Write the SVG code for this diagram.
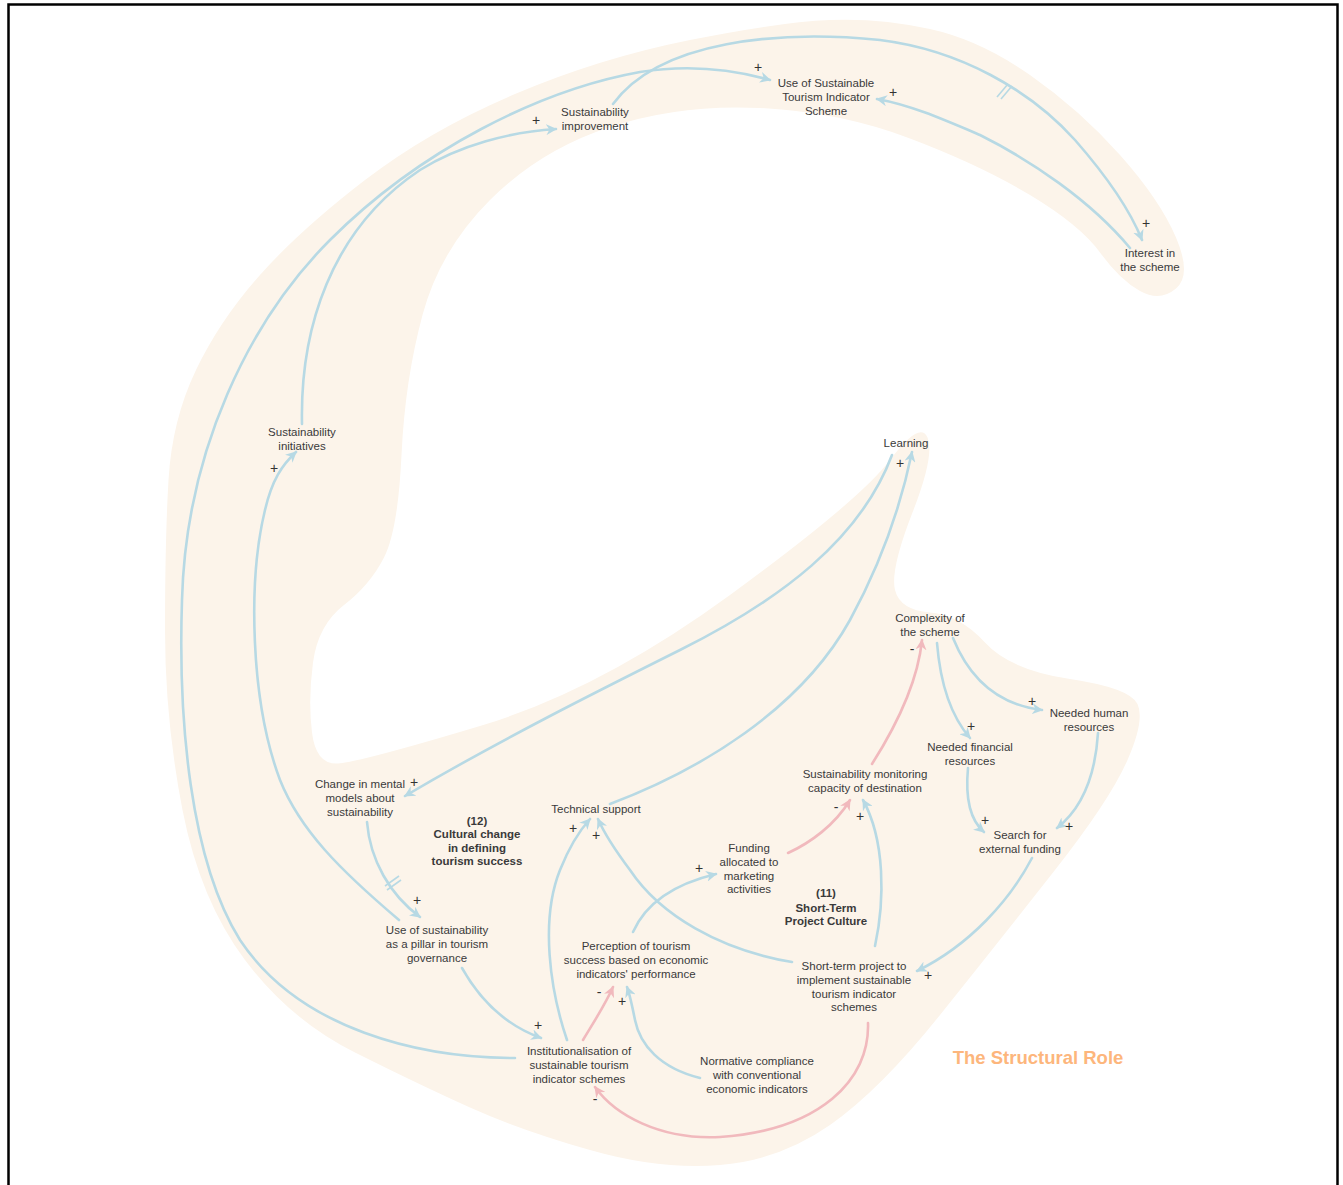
<svg xmlns="http://www.w3.org/2000/svg" width="1343" height="1185" viewBox="0 0 1343 1185">
<style>
.n{font-family:"Liberation Sans",Arial,sans-serif;font-size:11.5px;fill:#3a3a3a;text-anchor:middle}
.b{font-weight:bold}
.s{font-family:"Liberation Sans",Arial,sans-serif;font-size:14px;fill:#333;text-anchor:middle}
.cb{fill:none;stroke:#b7d9e4;stroke-width:2.6;stroke-linecap:round}
.cp{fill:none;stroke:#f1b9bd;stroke-width:2.6;stroke-linecap:round}
.d{stroke:#b7d9e4;stroke-width:1.6}
</style>
<defs>
<marker id="ab" viewBox="0 0 10 10" refX="9" refY="5" markerWidth="11" markerHeight="11" orient="auto" markerUnits="userSpaceOnUse"><path d="M0,0 L10,5 L0,10 L3,5 z" fill="#b7d9e4"/></marker>
<marker id="ap" viewBox="0 0 10 10" refX="9" refY="5" markerWidth="11" markerHeight="11" orient="auto" markerUnits="userSpaceOnUse"><path d="M0,0 L10,5 L0,10 L3,5 z" fill="#f1b9bd"/></marker>
</defs>
<rect x="0" y="0" width="1343" height="1185" fill="#fff"/>
<rect x="8.5" y="4.5" width="1329" height="1200" fill="none" stroke="#000" stroke-width="2.5"/>
<path id="blob" fill="#fcf4ea" d="M 168.5,480 Q 172,420 196,370 Q 220,320 260,275 Q 300,230 365,180 Q 430,130 515,94 Q 600,58 690,40 Q 780,22 830,20 Q 880,18 930,29 Q 980,40 1030,75 Q 1080,110 1120,155 Q 1160,200 1176,237.5 Q 1192,275 1176,288.5 Q 1160,302 1140,291 Q 1120,280 1100,252.5 Q 1080,225 1030,195 Q 980,165 910,138.5 Q 840,112 760,108 Q 680,104 610,127 Q 540,150 490,200 Q 440,250 422.5,315 Q 405,380 401.5,455 Q 398,530 384,557.5 Q 370,585 344,605 Q 318,625 313,662.5 Q 308,700 312,732.5 Q 316,765 338,763.5 Q 360,762 480,726 Q 600,690 730,595 Q 860,500 890,460 Q 920,420 927.5,437.5 Q 935,455 912.5,512.5 Q 890,570 895,590 Q 900,610 930,612.5 Q 960,615 985,642.5 Q 1010,670 1070,679 Q 1130,688 1137.5,704 Q 1145,720 1127.5,760 Q 1110,800 1055,870 Q 1000,940 940,1015 Q 880,1090 830,1125 Q 780,1160 720,1165 Q 660,1170 590,1150 Q 520,1130 470,1107.5 Q 420,1085 355,1052.5 Q 290,1020 245,960 Q 200,900 182.5,810 Q 165,720 165,630 Q 165,540 168.5,480 Z"/>
<g id="connectors">
<path class="cb" marker-end="url(#ab)" d="M515,1058 C420,1058 300,1030 240,940 C190,860 178,720 182,600 C186,450 250,320 330,240 C420,150 540,90 640,72 C690,64 735,70 770,80"/>
<path class="cb" marker-end="url(#ab)" d="M399,920 C340,870 300,830 280,780 C250,700 248,580 265,510 C272,480 282,465 296,452"/>
<path class="cb" marker-end="url(#ab)" d="M302,424 C300,330 330,230 420,170 C460,145 510,132 556,129"/>
<path class="cb" marker-end="url(#ab)" d="M613,104 C660,40 780,30 880,40 C960,50 1030,90 1075,140 C1110,180 1130,210 1142,240"/>
<line class="d" x1="997" y1="97" x2="1008" y2="84"/><line class="d" x1="1001" y1="99" x2="1012" y2="86"/>
<path class="cb" marker-end="url(#ab)" d="M1130,248 C1090,200 1030,160 980,135 C940,118 910,105 877,99"/>
<path class="cb" marker-end="url(#ab)" d="M892,455 C860,540 780,600 680,650 C600,690 500,740 405,796"/>
<path class="cb" marker-end="url(#ab)" d="M610,804 C700,770 800,710 850,620 C880,565 900,510 912,452"/>
<path class="cb" marker-end="url(#ab)" d="M367,822 C370,860 390,895 420,917"/>
<line class="d" x1="385" y1="886" x2="399" y2="876"/><line class="d" x1="387" y1="890" x2="401" y2="880"/>
<path class="cb" marker-end="url(#ab)" d="M462,968 C480,1000 505,1025 541,1038"/>
<path class="cb" marker-end="url(#ab)" d="M567,1040 C550,990 540,920 560,870 C570,845 580,830 590,819"/>
<path class="cb" marker-end="url(#ab)" d="M792,962 C720,950 660,915 630,870 C615,850 605,835 598,819"/>
<path class="cp" marker-end="url(#ap)" d="M583,1040 C595,1020 605,1005 613,987"/>
<path class="cb" marker-end="url(#ab)" d="M700,1078 C660,1068 640,1045 635,1020 C632,1005 630,995 627,987"/>
<path class="cb" marker-end="url(#ab)" d="M633,932 C645,905 670,885 716,874"/>
<path class="cp" marker-end="url(#ap)" d="M788,853 C810,843 835,825 850,800"/>
<path class="cb" marker-end="url(#ab)" d="M875,946 C885,900 885,840 863,800"/>
<path class="cp" marker-end="url(#ap)" d="M872,764 C900,720 918,680 922,640"/>
<path class="cb" marker-end="url(#ab)" d="M937,643 C940,680 950,715 970,738"/>
<path class="cb" marker-end="url(#ab)" d="M953,638 C970,680 1000,705 1042,710"/>
<path class="cb" marker-end="url(#ab)" d="M968,768 C965,800 970,820 984,832"/>
<path class="cb" marker-end="url(#ab)" d="M1098,733 C1095,780 1080,810 1057,828"/>
<path class="cb" marker-end="url(#ab)" d="M1032,858 C1010,900 970,945 917,971"/>
<path class="cp" marker-end="url(#ap)" d="M868,1023 C870,1080 820,1130 720,1137 C660,1140 615,1115 595,1087"/>
</g>
<g id="signs">
<text class="s" x="758" y="72">+</text>
<text class="s" x="893" y="97">+</text>
<text class="s" x="536" y="125">+</text>
<text class="s" x="1146" y="228">+</text>
<text class="s" x="274" y="473">+</text>
<text class="s" x="900" y="468">+</text>
<text class="s" x="414" y="787">+</text>
<text class="s" x="417" y="905">+</text>
<text class="s" x="573" y="833">+</text>
<text class="s" x="596" y="840">+</text>
<text class="s" x="699" y="873">+</text>
<text class="s" x="599" y="997">-</text>
<text class="s" x="622" y="1006">+</text>
<text class="s" x="538" y="1030">+</text>
<text class="s" x="595" y="1104">-</text>
<text class="s" x="912" y="654">-</text>
<text class="s" x="1032" y="706">+</text>
<text class="s" x="971" y="731">+</text>
<text class="s" x="836" y="812">-</text>
<text class="s" x="860" y="821">+</text>
<text class="s" x="985" y="825">+</text>
<text class="s" x="1069" y="831">+</text>
<text class="s" x="928" y="980">+</text>
</g>
<g id="n-use-scheme"><text class="n" x="826" y="87">Use of Sustainable</text><text class="n" x="826" y="101">Tourism Indicator</text><text class="n" x="826" y="115">Scheme</text></g>
<g id="n-sust-improvement"><text class="n" x="595" y="116">Sustainability</text><text class="n" x="595" y="130">improvement</text></g>
<g id="n-interest"><text class="n" x="1150" y="257">Interest in</text><text class="n" x="1150" y="271">the scheme</text></g>
<g id="n-sust-initiatives"><text class="n" x="302" y="436">Sustainability</text><text class="n" x="302" y="450">initiatives</text></g>
<g id="n-learning"><text class="n" x="906" y="447">Learning</text></g>
<g id="n-complexity"><text class="n" x="930" y="622">Complexity of</text><text class="n" x="930" y="636">the scheme</text></g>
<g id="n-human"><text class="n" x="1089" y="717">Needed human</text><text class="n" x="1089" y="731">resources</text></g>
<g id="n-financial"><text class="n" x="970" y="751">Needed financial</text><text class="n" x="970" y="765">resources</text></g>
<g id="n-monitoring"><text class="n" x="865" y="778">Sustainability monitoring</text><text class="n" x="865" y="792">capacity of destination</text></g>
<g id="n-search"><text class="n" x="1020" y="839">Search for</text><text class="n" x="1020" y="853">external funding</text></g>
<g id="n-mental"><text class="n" x="360" y="788">Change in mental</text><text class="n" x="360" y="802">models about</text><text class="n" x="360" y="816">sustainability</text></g>
<g id="loop-12"><text class="n b" x="477" y="824.5">(12)</text><text class="n b" x="477" y="838">Cultural change</text><text class="n b" x="477" y="851.5">in defining</text><text class="n b" x="477" y="865">tourism success</text></g>
<g id="n-pillar"><text class="n" x="437" y="934">Use of sustainability</text><text class="n" x="437" y="948">as a pillar in tourism</text><text class="n" x="437" y="962">governance</text></g>
<g id="n-technical"><text class="n" x="596" y="813">Technical support</text></g>
<g id="n-funding"><text class="n" x="749" y="852">Funding</text><text class="n" x="749" y="865.5">allocated to</text><text class="n" x="749" y="879.5">marketing</text><text class="n" x="749" y="893">activities</text></g>
<g id="loop-11"><text class="n b" x="826" y="897">(11)</text><text class="n b" x="826" y="911.5">Short-Term</text><text class="n b" x="826" y="925">Project Culture</text></g>
<g id="n-perception"><text class="n" x="636" y="950">Perception of tourism</text><text class="n" x="636" y="964">success based on economic</text><text class="n" x="636" y="977.5">indicators' performance</text></g>
<g id="n-shortterm"><text class="n" x="854" y="970">Short-term project to</text><text class="n" x="854" y="984">implement sustainable</text><text class="n" x="854" y="998">tourism indicator</text><text class="n" x="854" y="1011">schemes</text></g>
<g id="n-institutionalisation"><text class="n" x="579" y="1055">Institutionalisation of</text><text class="n" x="579" y="1069">sustainable tourism</text><text class="n" x="579" y="1083">indicator schemes</text></g>
<g id="n-normative"><text class="n" x="757" y="1065">Normative compliance</text><text class="n" x="757" y="1079">with conventional</text><text class="n" x="757" y="1093">economic indicators</text></g>
<g id="title"><text x="1038" y="1064" font-family="'Liberation Sans',Arial,sans-serif" font-size="18.5" font-weight="bold" fill="#fdb67c" text-anchor="middle">The Structural Role</text></g>
</svg>
